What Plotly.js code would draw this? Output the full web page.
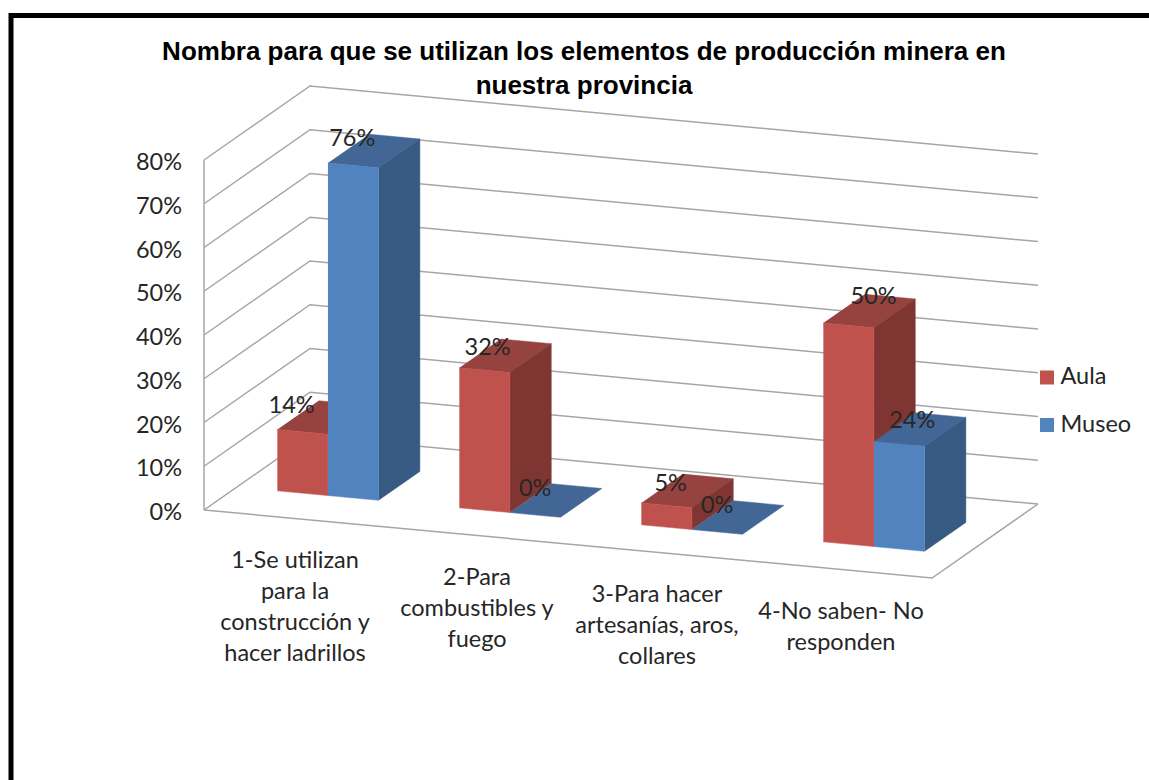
<!DOCTYPE html>
<html>
<head>
<meta charset="utf-8">
<script src="https://cdn.plot.ly/plotly-3.0.1.min.js"></script>
<style>html,body{margin:0;padding:0;background:#fff;overflow:hidden}</style>
</head>
<body>
<div id="chart" style="width:1149px;height:780px"></div>
<script>
// values
var seriesNames = ["Aula", "Museo"];
var aula = [14, 32, 5, 50];
var museo = [76, 0, 0, 24];
var categoryLines = [
    ["1-Se utilizan", "para la", "construcción y", "hacer ladrillos"],
    ["2-Para", "combustibles y", "fuego"],
    ["3-Para hacer", "artesanías, aros,", "collares"],
    ["4-No saben- No", "responden"]
];
var valueTicks = [0, 10, 20, 30, 40, 50, 60, 70, 80];

// fake 3d look: u runs along the categories, v goes into the depth, val is in percent
var pxPerPct = 4.375;
function px(u, v) { return 204 + 728 * u + 106 * v; }
function py(u, v, val) { return val - (68 * u - 74 * v) / pxPerPct; }

var frontColors = ["#C0524E", "#5183BE"];
var sideColors = ["#7F3632", "#375A82"];
var topColors = ["#964340", "#426796"];
var textColor = "#262626";
var textFont = {family: "Lato", size: 23.5, color: textColor};

var traces = [];

function polygon(corners, color) {
    traces.push({
        x: corners.map(c => px(c[0], c[1])),
        y: corners.map(c => py(c[0], c[1], c[2])),
        mode: "lines", fill: "toself", fillcolor: color,
        line: {color: color, width: 0.5},
        hoverinfo: "skip", showlegend: false
    });
}

function gridLine(corners) {
    traces.push({
        x: corners.map(c => px(c[0], c[1])),
        y: corners.map(c => py(c[0], c[1], c[2])),
        mode: "lines", line: {color: "#A6A6A6", width: 1.5},
        hoverinfo: "skip", showlegend: false
    });
}

// walls and floor
valueTicks.forEach(t => gridLine([[0, 0, t], [0, 1, t], [1, 1, t]]));
gridLine([[0, 0, 0], [0, 0, 80]]);
gridLine([[0, 0, 0], [1, 0, 0], [1, 1, 0]]);

// bars
var gap = 0.0556, barW = 0.0695, v0 = 0.31, v1 = 0.70;
function bar(cat, s, val) {
    var a = cat * 0.25 + gap + s * barW, b = a + barW;
    polygon([[a, v0, val], [b, v0, val], [b, v1, val], [a, v1, val]], topColors[s]);
    if (val > 0) {
        polygon([[b, v0, 0], [b, v1, 0], [b, v1, val], [b, v0, val]], sideColors[s]);
        polygon([[a, v0, 0], [b, v0, 0], [b, v0, val], [a, v0, val]], frontColors[s]);
    }
}
aula.forEach((val, i) => {
    bar(i, 0, val);
    bar(i, 1, museo[i]);
});

// data labels, Excel puts them a bit off centre so these are nudged by hand (px)
var nudgeX = [[-11, -1], [3, 0], [4, 0], [25, 13]];
var nudgeY = [[25, 25], [21, 25], [20, 25], [27, 22]];
var labelX = [], labelY = [], labelText = [];
[aula, museo].forEach((values, s) => {
    values.forEach((val, i) => {
        var u = i * 0.25 + gap + (s + 0.5) * barW;
        labelX.push(px(u, v0) + nudgeX[i][s]);
        labelY.push(py(u, v0, val) + nudgeY[i][s] / pxPerPct);
        labelText.push(val + "%");
    });
});
traces.push({
    x: labelX, y: labelY, text: labelText,
    mode: "text", textposition: "middle center",
    textfont: textFont,
    hoverinfo: "skip", showlegend: false
});

// category labels follow the slope of the front floor edge
var catX = [], catY = [], catText = [];
categoryLines.forEach((lines, i) => {
    var u = (i + 0.5) * 0.25;
    lines.forEach((line, n) => {
        catX.push(px(u, 0) - (i == 2 ? 2 : 0));
        catY.push(py(u, 0, 0) - (44 + 31 * n) / pxPerPct);
        catText.push(line);
    });
});
traces.push({
    x: catX, y: catY, text: catText,
    mode: "text", textposition: "middle center",
    textfont: textFont,
    hoverinfo: "skip", showlegend: false
});

// legend, drawn by hand because the rows sit far apart
seriesNames.forEach((name, s) => {
    var legendY = (510 - 377.5 - s * 47.5) / pxPerPct;
    traces.push({
        x: [1047], y: [legendY], mode: "markers",
        marker: {symbol: "square", size: 14, color: frontColors[s]},
        hoverinfo: "skip", showlegend: false
    });
    traces.push({
        x: [1060.5], y: [legendY - 0.25], text: [name],
        mode: "text", textposition: "middle right",
        textfont: textFont,
        hoverinfo: "skip", showlegend: false
    });
});

var layout = {
    width: 1149,
    height: 780,
    margin: {l: 0, r: 0, t: 0, b: 0},
    paper_bgcolor: "#fff",
    plot_bgcolor: "#fff",
    showlegend: false,
    title: {
        text: "Nombra para que se utilizan los elementos de producción minera en<br>nuestra provincia",
        font: {family: "Liberation Sans", size: 26, color: "#000", weight: "bold"},
        x: 584 / 1149, xanchor: "center", y: 1 - 60 / 780, yanchor: "top"
    },
    xaxis: {range: [0, 1149], visible: false, fixedrange: true},
    yaxis: {
        range: [(510 - 780) / pxPerPct, 510 / pxPerPct],
        anchor: "free", position: 182 / 1149,
        tickvals: valueTicks, ticktext: valueTicks.map(t => t + "%"), ticks: "",
        ticklabelshift: 2,
        showgrid: false, zeroline: false, showline: false, fixedrange: true,
        tickfont: textFont
    },
    shapes: [{
        type: "rect", xref: "paper", yref: "paper",
        x0: 11 / 1149, x1: 1.02, y0: -0.02, y1: 1 - 15.5 / 780,
        line: {color: "#000", width: 5}
    }]
};

Plotly.newPlot("chart", traces, layout, {displayModeBar: false, responsive: false});
</script>
</body>
</html>
